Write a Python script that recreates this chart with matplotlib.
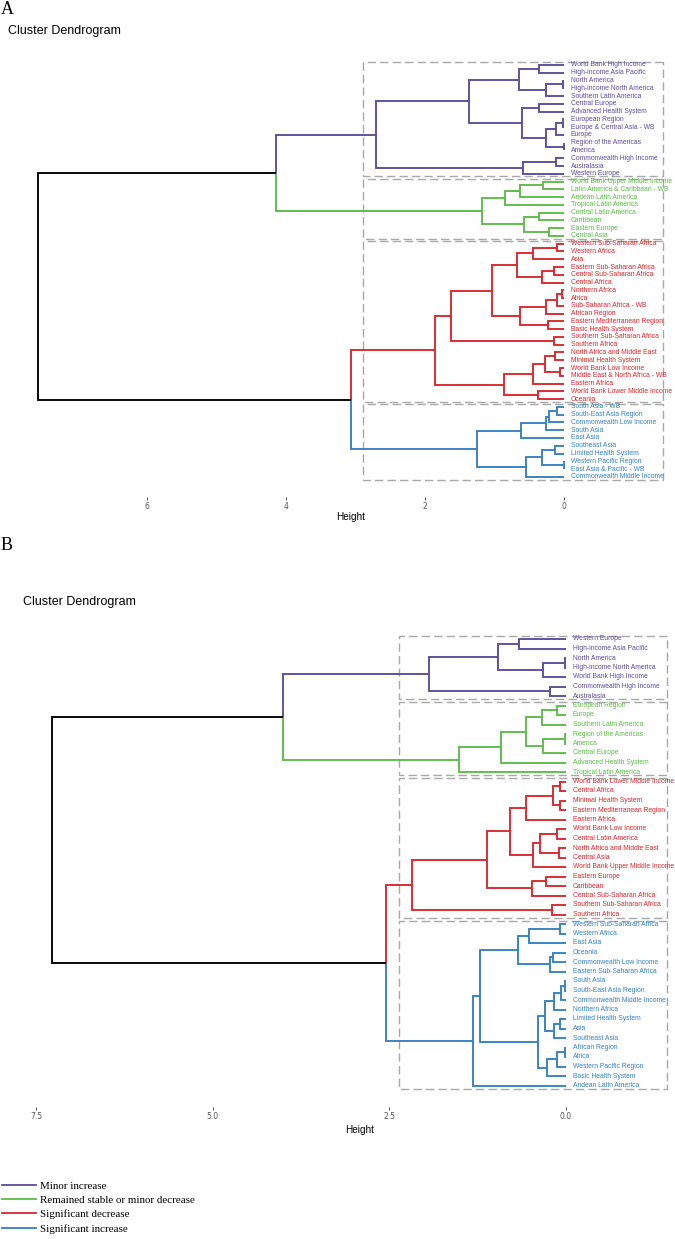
import matplotlib
matplotlib.use('Agg')
import matplotlib.pyplot as plt
from matplotlib.patches import Rectangle
from matplotlib.lines import Line2D

# Cluster colours and legend text
group_names = ['Minor increase', 'Remained stable or minor decrease',
               'Significant decrease', 'Significant increase']
group_colors = ['#5b4b9a', '#5bbb47', '#d8262d', '#3580c2']

# Trees are nested (height, left, right); leaves are the region names
# ---- Panel A ----
a_purple = (2.71,
            (1.36,
             (0.65, (0.355, 'World Bank High Income', 'High-income Asia Pacific'),
                    (0.26, (0.01, 'North America', 'High-income North America'), 'Southern Latin America')),
             (0.61, (0.36, 'Central Europe', 'Advanced Health System'),
                    (0.26, (0.12, (0.01, 'European Region', 'Europe & Central Asia - WB'), 'Europe'),
                           (0.005, 'Region of the Americas', 'America')))),
            (0.585, (0.12, 'Commonwealth High Income', 'Australasia'), 'Western Europe'))
a_green = (1.18,
           (0.85, (0.63, (0.30, 'World Bank Upper Middle Income', 'Latin America & Caribbean - WB'),
                   'Andean Latin America'), 'Tropical Latin America'),
           (0.575, (0.355, 'Central Latin America', 'Caribbean'), (0.21, 'Eastern Europe', 'Central Asia')))
a_red = (1.85,
         (1.62,
          (1.04,
           (0.68, (0.44, (0.105, 'Western Sub-Saharan Africa', 'Western Africa'), 'Asia'),
                  (0.32, (0.14, 'Eastern Sub-Saharan Africa', 'Central Sub-Saharan Africa'), 'Central Africa')),
           (0.63, (0.26, (0.105, (0.03, 'Northern Africa', 'Africa'), 'Sub-Saharan Africa - WB'), 'African Region'),
                  (0.235, 'Eastern Mediterranean Region', 'Basic Health System'))),
          (0.14, 'Southern Sub-Saharan Africa', 'Southern Africa')),
         (0.86,
          (0.44, (0.27, (0.13, 'North Africa and Middle East', 'Minimal Health System'),
                        (0.06, 'World Bank Low Income', 'Middle East & North Africa - WB')), 'Eastern Africa'),
          (0.38, 'World Bank Lower Middle Income', 'Oceania')))
a_blue = (1.25,
          (0.62, (0.26, (0.21, (0.105, 'South Asia - WB', 'South-East Asia Region'), 'Commonwealth Low Income'),
                  'South Asia'), 'East Asia'),
          (0.55, (0.31, (0.135, 'Southeast Asia', 'Limited Health System'),
                        (0.005, 'Western Pacific Region', 'East Asia & Pacific - WB')), 'Commonwealth Middle Income'))
a_tree = (7.57, (4.15, a_purple, a_green), (3.07, a_red, a_blue))
a_ticks = [6, 4, 2, 0]
a_ticklabels = ['6', '4', '2', '0']

# ---- Panel B ----
b_purple = (1.93,
            (0.954, (0.656, 'Western Europe', 'High-income Asia Pacific'),
                    (0.316, (0.005, 'North America', 'High-income North America'), 'World Bank High Income')),
            (0.22, 'Commonwealth High Income', 'Australasia'))
b_green = (1.51,
           (0.92, (0.56, (0.335, (0.127, 'European Region', 'Europe'), 'Southern Latin America'),
                         (0.326, (0.005, 'Region of the Americas', 'America'), 'Central Europe')),
            'Advanced Health System'),
           'Tropical Latin America')
b_red = (2.18,
         (1.11,
          (0.79,
           (0.56, (0.184, (0.08, 'World Bank Lower Middle Income', 'Central Africa'),
                          (0.08, 'Minimal Health System', 'Eastern Mediterranean Region')), 'Eastern Africa'),
           (0.47, (0.364, (0.127, 'World Bank Low Income', 'Central Latin America'),
                          (0.09, 'North Africa and Middle East', 'Central Asia')), 'World Bank Upper Middle Income')),
          (0.48, (0.28, 'Eastern Europe', 'Caribbean'), 'Central Sub-Saharan Africa')),
         (0.20, 'Southern Sub-Saharan Africa', 'Southern Africa'))
b_blue = (1.32,
          (1.22,
           (0.68, (0.52, (0.08, 'Western Sub-Saharan Africa', 'Western Africa'), 'East Asia'),
                  (0.22, (0.184, 'Oceania', 'Commonwealth Low Income'), 'Eastern Sub-Saharan Africa')),
           (0.39, (0.30, (0.165, (0.06, (0.005, 'South Asia', 'South-East Asia Region'),
                                  'Commonwealth Middle Income'), 'Northern Africa'),
                         (0.165, (0.08, 'Limited Health System', 'Asia'), 'Southeast Asia')),
                  (0.26, (0.118, (0.005, 'African Region', 'Africa'), 'Western Pacific Region'),
                   'Basic Health System'))),
          'Andean Latin America')
b_tree = (7.28, (4.01, b_purple, b_green), (2.54, b_red, b_blue))
b_ticks = [7.5, 5.0, 2.5, 0.0]
b_ticklabels = ['7.5', '5.0', '2.5', '0.0']

W, H = 675, 1239
fig = plt.figure(figsize=(W / 100, H / 100), dpi=100)


def px_axes(left, top, right, bottom):
    return fig.add_axes([left / W, 1 - bottom / H, (right - left) / W, (bottom - top) / H])


def leaves(node):
    if isinstance(node, str):
        return [node]
    return leaves(node[1]) + leaves(node[2])


def heights(node):
    if isinstance(node, str):
        return []
    return [node[0]] + heights(node[1]) + heights(node[2])


def draw_dendro(ax, tree, clusters):
    order = leaves(tree)
    ypos = {name: i for i, name in enumerate(order)}
    colour = {}
    for sub, col in zip(clusters, group_colors):
        for name in leaves(sub):
            colour[name] = col

    def node_col(node):
        cols = set(colour[n] for n in leaves(node))
        return cols.pop() if len(cols) == 1 else 'black'

    def walk(node):
        if isinstance(node, str):
            return ypos[node], 0.0
        h = node[0]
        ys = []
        for child in node[1:]:
            yc, hc = walk(child)
            ys.append((child, yc, hc))
        y = (ys[0][1] + ys[1][1]) / 2
        for child, yc, hc in ys:
            ax.plot([h, h, hc], [y, yc, yc], color=node_col(child), lw=1.35,
                    solid_capstyle='butt', solid_joinstyle='miter')
        return y, h

    walk(tree)

    for name in order:
        ax.text(-0.1, ypos[name], name, color=colour[name], fontsize=4.9,
                va='center', ha='left', family='Liberation Sans')

    # dashed boxes round the 4 clusters
    hs = sorted(heights(tree), reverse=True)
    cut = (hs[2] + hs[3]) / 2
    for sub in clusters:
        idx = [ypos[n] for n in leaves(sub)]
        y0, y1 = min(idx) - 0.35, max(idx) + 0.35
        ax.add_patch(Rectangle((-1.43, y0), cut + 1.43, y1 - y0, fill=False,
                               ec='#a8a8a8', lw=1.0, ls=(0, (6, 3)), clip_on=False))


def style_axes(ax, ticks, labels):
    ax.set_xticks(ticks)
    ax.set_xticklabels(labels)
    ax.set_yticks([])
    for s in ax.spines.values():
        s.set_visible(False)
    ax.tick_params(axis='x', length=2, width=0.6, color='#333333', pad=1.5,
                   labelsize=5.5, labelcolor='#555555')


# Panel A
axA = px_axes(20, 55, 670, 497)
draw_dendro(axA, a_tree, [a_purple, a_green, a_red, a_blue])
axA.set_xlim((564 - 20) / 69.5, (564 - 670) / 69.5)
axA.set_ylim(432 / 7.77, -10 / 7.77)
style_axes(axA, a_ticks, a_ticklabels)

# Panel B
axB = px_axes(20, 625, 670, 1107)
draw_dendro(axB, b_tree, [b_purple, b_green, b_red, b_blue])
axB.set_xlim((565.7 - 20) / 70.6, (565.7 - 670) / 70.6)
axB.set_ylim(468 / 9.5, -14 / 9.5)
style_axes(axB, b_ticks, b_ticklabels)

# titles, panel letters, axis names
fig.text(1 / W, 1 - 10 / H, 'A', fontsize=13, family='Liberation Serif', va='center')
fig.text(1 / W, 1 - 546 / H, 'B', fontsize=13, family='Liberation Serif', va='center')
fig.text(8 / W, 1 - 31 / H, 'Cluster Dendrogram', fontsize=9, family='Liberation Sans', va='center')
fig.text(23 / W, 1 - 602 / H, 'Cluster Dendrogram', fontsize=9, family='Liberation Sans', va='center')
fig.text(351 / W, 1 - 517 / H, 'Height', fontsize=7.2, family='Liberation Sans', ha='center', va='center')
fig.text(360 / W, 1 - 1130 / H, 'Height', fontsize=7.2, family='Liberation Sans', ha='center', va='center')

# legend
handles = [Line2D([], [], color=c, lw=1.3) for c in group_colors]
fig.legend(handles, group_names, loc='upper left', bbox_to_anchor=(2 / W, 1 - 1181 / H),
           frameon=False, prop={'family': 'Liberation Serif', 'size': 7.9},
           handlelength=3.1, handletextpad=0.4, labelspacing=0.42, borderpad=0, borderaxespad=0)

fig.savefig('out.png', dpi=100)
